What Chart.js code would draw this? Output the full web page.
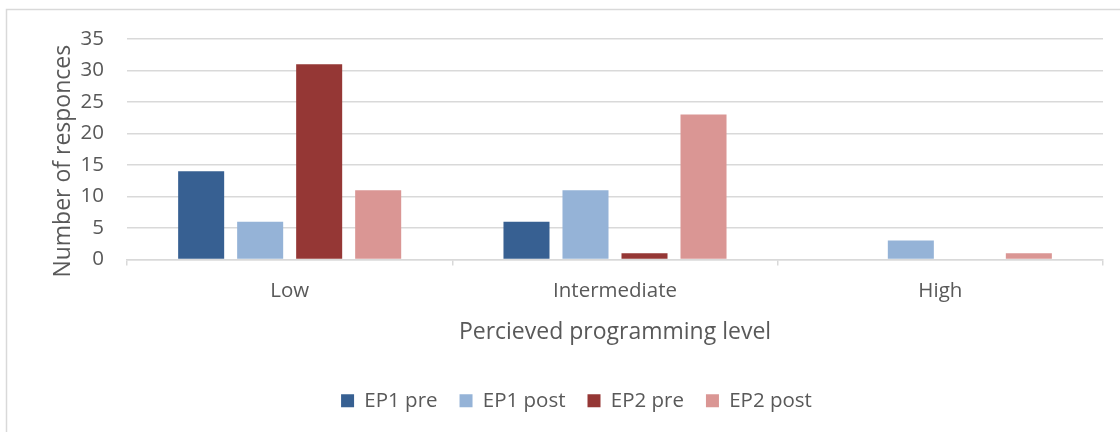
<!DOCTYPE html>
<html>
<head>
<meta charset="utf-8">
<script src="https://cdn.jsdelivr.net/npm/chart.js@4.4.1/dist/chart.umd.min.js"></script>
<style>
  html, body { margin: 0; padding: 0; background: #ffffff; }
  #wrap { width: 1120px; height: 432px; position: relative; }
</style>
</head>
<body>
<div id="wrap"><canvas id="c" width="1120" height="432"></canvas></div>
<script>
const categories = ["Low", "Intermediate", "High"];
const seriesNames = ["EP1 pre", "EP1 post", "EP2 pre", "EP2 post"];
const ep1Pre = [14, 6, 0];
const ep1Post = [6, 11, 3];
const ep2Pre = [31, 1, 0];
const ep2Post = [11, 23, 1];
const yTicks = [0, 5, 10, 15, 20, 25, 30, 35];
const colors = ["#376092", "#95b3d7", "#953735", "#da9694"];

const FONT = "'Open Sans', 'Noto Sans', sans-serif";
const TXT = "#595959";
const GRID = "#d9d9d9";

const borderPlugin = {
  id: "outerBorder",
  beforeDraw(chart) {
    const ctx = chart.ctx;
    ctx.save();
    ctx.fillStyle = "#ffffff";
    ctx.fillRect(0, 0, chart.width, chart.height);
    ctx.strokeStyle = GRID;
    ctx.lineWidth = 1.5;
    ctx.strokeRect(6.5, 9.5, 3000, 3000);
    ctx.restore();
  }
};

const seriesValues = [ep1Pre, ep1Post, ep2Pre, ep2Post];
new Chart(document.getElementById("c"), {
  type: "bar",
  data: {
    labels: categories,
    datasets: seriesNames.map((n, i) => ({
      label: n,
      data: seriesValues[i],
      backgroundColor: colors[i],
      borderWidth: 0,
      categoryPercentage: 0.7255,
      barPercentage: 0.78
    }))
  },
  options: {
    responsive: false,
    animation: false,
    devicePixelRatio: 1,
    layout: { padding: { left: 50, top: 39, right: 17, bottom: 11 } },
    plugins: {
      tooltip: { enabled: false },
      legend: {
        position: "bottom",
        labels: {
          boxWidth: 13, boxHeight: 13, padding: 22,
          color: TXT,
          font: { family: FONT, size: 20.5 }
        }
      }
    },
    scales: {
      x: {
        grid: { drawOnChartArea: false, drawTicks: true, tickLength: 6, color: GRID, lineWidth: 1.5 },
        border: { color: GRID, width: 1.5 },
        ticks: { color: TXT, padding: 13, font: { family: FONT, size: 20.5 } },
        title: {
          display: true, text: "Percieved programming level", color: TXT,
          font: { family: FONT, size: 23 }, padding: { top: 0, bottom: 22 }
        },
        afterFit(scale) { scale.height = 109; }
      },
      y: {
        min: 0, max: 35,
        afterBuildTicks(scale) { scale.ticks = yTicks.map(v => ({ value: v })); },
        grid: { drawTicks: false, color: GRID, lineWidth: 1.5 },
        border: { display: false },
        ticks: { color: TXT, padding: 23, font: { family: FONT, size: 20.5 } },
        title: {
          display: true, text: "Number of responces    ", color: TXT,
          font: { family: FONT, size: 23 }, padding: { top: 0, bottom: 0 }
        },
        afterFit(scale) { scale.width = 77; }
      }
    }
  },
  plugins: [borderPlugin]
});
</script>
</body>
</html>
